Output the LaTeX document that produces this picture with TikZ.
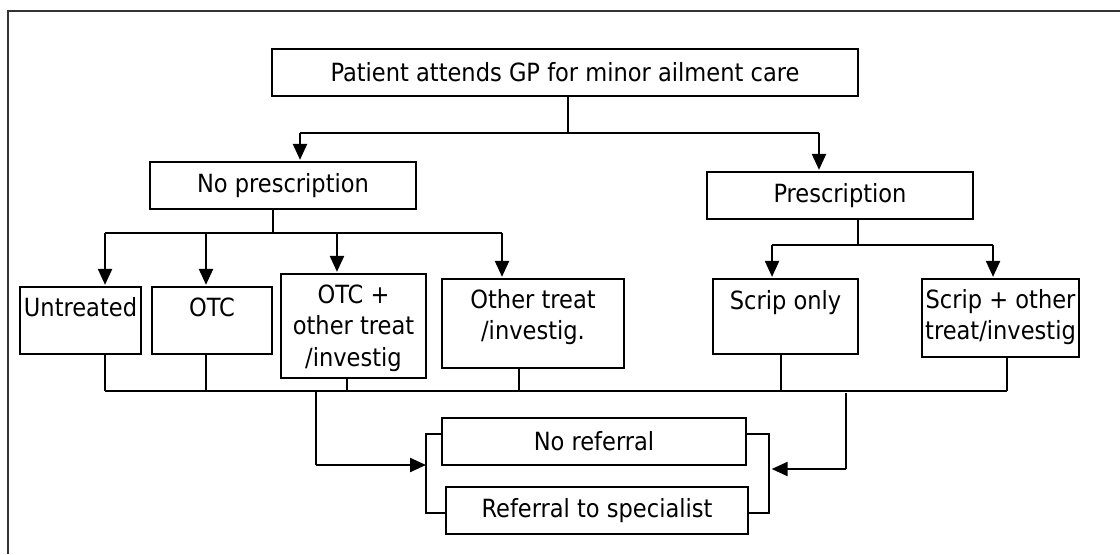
\documentclass[tikz,border=0pt]{standalone}
\usepackage{fontspec}
\setmainfont{DejaVu Sans Condensed}
\usepackage{tikz}
\usetikzlibrary{arrows.meta}

\begin{document}
\begin{tikzpicture}[x=0.75pt,y=-0.75pt,>={Triangle[length=12pt,width=10.5pt]},
	box/.style={draw,line width=1.2pt,inner sep=0pt},
	txt/.style={font=\fontsize{18.8}{23.6}\selectfont,align=center,inner sep=0pt},
	conn/.style={line width=0.9pt},
	arr/.style={->,line width=1.7pt,shorten >=1pt}]
		\useasboundingbox (0,0) rectangle (1120,554);
		\draw[line width=1.5pt,black!80] (8,554)--(8,11)--(1120,11); %枠
		% 上段
		\node[box,txt,minimum width=439.5pt,minimum height=35.25pt] (gp) at (565,72.5) {Patient attends GP for minor ailment care};
		\node[box,txt,minimum width=199.5pt,minimum height=35.25pt] (noscrip) at (283,185.5) {No prescription};
		\node[box,txt,minimum width=199.5pt,minimum height=35.25pt] (scrip) at (840,195.5) {Prescription};
		% 中段（文字は上寄せ）
		\node[box,minimum width=90.75pt,minimum height=50.25pt] (untr) at (80.5,320.5) {};
		\node[txt,anchor=north,yshift=-8.25pt] (untr-t) at (untr.north) {Untreated};
		\node[box,minimum width=90pt,minimum height=50.25pt] (otc) at (212,320.5) {};
		\node[txt,anchor=north,yshift=-8.25pt] (otc-t) at (otc.north) {OTC};
		\node[box,minimum width=108.75pt,minimum height=78pt] (otcp) at (353.5,326) {};
		\node[txt,anchor=north,yshift=-8.25pt] (otcp-t) at (otcp.north) {OTC +\\other treat\\/investig};
		\node[box,minimum width=136.5pt,minimum height=66.75pt] (other) at (533,323.5) {};
		\node[txt,anchor=north,yshift=-8.25pt] (other-t) at (other.north) {Other treat\\/investig.};
		\node[box,minimum width=108.75pt,minimum height=56.25pt] (sonly) at (785.5,316.5) {};
		\node[txt,anchor=north,yshift=-9pt] (sonly-t) at (sonly.north) {Scrip only};
		\node[box,minimum width=117.75pt,minimum height=58.5pt] (splus) at (1000.5,318) {};
		\node[txt,anchor=north,yshift=-8.25pt] (splus-t) at (splus.north) {Scrip + other\\treat/investig};
		% 下段
		\node[box,txt,minimum width=228pt,minimum height=35.25pt] (noref) at (594,441.5) {No referral};
		\node[box,txt,minimum width=226.5pt,minimum height=35.25pt] (ref) at (597,510.5) {Referral to specialist};
		% 分岐点
		\coordinate (b1M) at (568,133); \coordinate (b1L) at (300,133); \coordinate (b1R) at (819,133);
		\coordinate (b2M) at (273,233); \coordinate (b2L) at (105,233); \coordinate (b2R) at (502,233);
		\coordinate (b3M) at (858,245); \coordinate (b3L) at (772,245); \coordinate (b3R) at (993,245);
		\coordinate (b4L) at (105,391); \coordinate (b4R) at (1007,391);
		\coordinate (f1) at (316,391); \coordinate (f1b) at (316,465);
		\coordinate (f2) at (846,393); \coordinate (f2b) at (846,469);
		\coordinate (brLt) at (426,434); \coordinate (brLb) at (426,513);
		\coordinate (brRt) at (769,434); \coordinate (brRb) at (769,513);
		% GP → 処方あり／なし
		\draw[conn] (gp.south -| b1M)--(b1M);
		\draw[conn] (b1L)--(b1R);
		\draw[arr] (b1L)--(b1L |- noscrip.north);
		\draw[arr] (b1R)--(b1R |- scrip.north);
		% 処方なし
		\draw[conn] (noscrip.south -| b2M)--(b2M);
		\draw[conn] (b2L)--(b2R);
		\foreach \n/\dx in {untr/18.4,otc/-4.5,otcp/-12.4,other/-23.25}
			\draw[arr] ([xshift=\dx pt]\n.north |- b2L)--([xshift=\dx pt]\n.north);
		% 処方あり
		\draw[conn] (scrip.south -| b3M)--(b3M);
		\draw[conn] (b3L)--(b3R);
		\foreach \n/\dx in {sonly/-10.1,splus/-5.6}
			\draw[arr] ([xshift=\dx pt]\n.north |- b3L)--([xshift=\dx pt]\n.north);
		% 下の横線
		\draw[conn] (b4L)--(b4R);
		\foreach \n/\dx in {untr/18.4,otc/-4.5,otcp/-4.9,other/-10.5,sonly/-3.4,splus/4.9}
			\draw[conn] ([xshift=\dx pt]\n.south)--([xshift=\dx pt]\n.south |- b4L);
		% 紹介の有無
		\draw[conn] (f1)--(f1b);
		\draw[arr,shorten >=0pt] (f1b)--(f1b -| brLt);
		\draw[conn] (f2)--(f2b);
		\draw[arr,shorten >=2pt] (f2b)--(f2b -| brRt);
		\draw[conn] (noref.west |- brLt)--(brLt)--(brLb)--(ref.west |- brLb);
		\draw[conn] (noref.east |- brRt)--(brRt)--(brRb)--(ref.east |- brRb);
	\end{tikzpicture}
\end{document}
